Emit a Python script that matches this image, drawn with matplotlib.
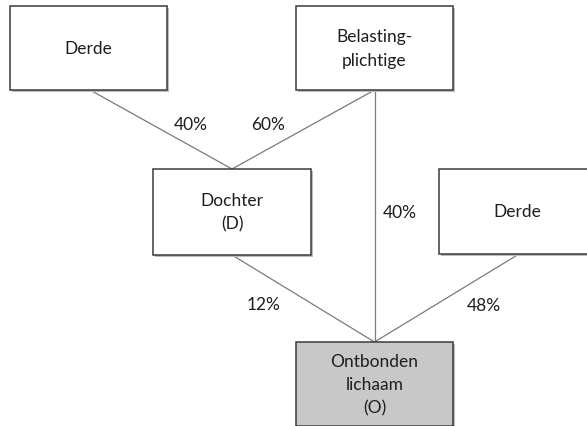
import matplotlib
matplotlib.use("Agg")
from matplotlib import pyplot as plt
from matplotlib.patches import Rectangle

plt.rcParams["font.family"] = ["Lato", "DejaVu Sans"]

# nodes of the structure
node_names = ["derde_l", "belasting", "dochter", "derde_r", "ontbonden"]
node_labels = ["Derde", "Belasting-\nplichtige", "Dochter\n(D)", "Derde", "Ontbonden\nlichaam\n(O)"]
node_fill = ["white", "white", "white", "white", "#c8c8c8"]

# shareholdings: (holder, held, percentage)
edge_from = ["derde_l", "belasting", "belasting", "dochter", "derde_r"]
edge_to = ["dochter", "dochter", "ontbonden", "ontbonden", "ontbonden"]
edge_pct = ["40%", "60%", "40%", "12%", "48%"]

# layout (pixels, top-left origin): x0, y0, width, height
box_pos = {
    "derde_l": (10, 7, 157, 84),
    "belasting": (296, 7, 157, 84),
    "dochter": (153, 170, 158, 86),
    "derde_r": (439, 170, 157, 85),
    "ontbonden": (296, 343, 157, 84),
}
bottom_anchor_x = {"derde_l": 90, "derde_r": 519}
label_pos = [(191, 125), (268, 125), (400, 213), (264, 305), (484, 306)]

fig = plt.figure(figsize=(5.87, 4.27), dpi=100)
ax = fig.add_axes([0, 0, 1, 1])
ax.set_xlim(0, 587)
ax.set_ylim(427, 0)
ax.axis("off")

for src, dst, pct, (lx, ly) in zip(edge_from, edge_to, edge_pct, label_pos):
    sx, sy, sw, sh = box_pos[src]
    dx, dy, dw, dh = box_pos[dst]
    x1 = bottom_anchor_x.get(src, sx + sw / 2)
    ax.plot([x1, dx + dw / 2], [sy + sh, dy], color="#7a7a7a", lw=0.9, zorder=1)
    ax.text(lx, ly, pct, ha="center", va="center", fontsize=12.5, color="#1e1e1e")

for name, lab, fc in zip(node_names, node_labels, node_fill):
    x, y, w, h = box_pos[name]
    ax.add_patch(Rectangle((x + 1.5, y + 1.5), w, h, facecolor="#bbbbbb", edgecolor="none", zorder=2))
    ax.add_patch(Rectangle((x, y), w, h, facecolor=fc, edgecolor="#3a3a3a", lw=1.1, zorder=3))
    ax.text(x + w / 2, y + h / 2, lab, ha="center", va="center", fontsize=12.5,
            color="#1e1e1e", linespacing=1.55, zorder=4)

fig.savefig("out.png", dpi=100, facecolor="white")
